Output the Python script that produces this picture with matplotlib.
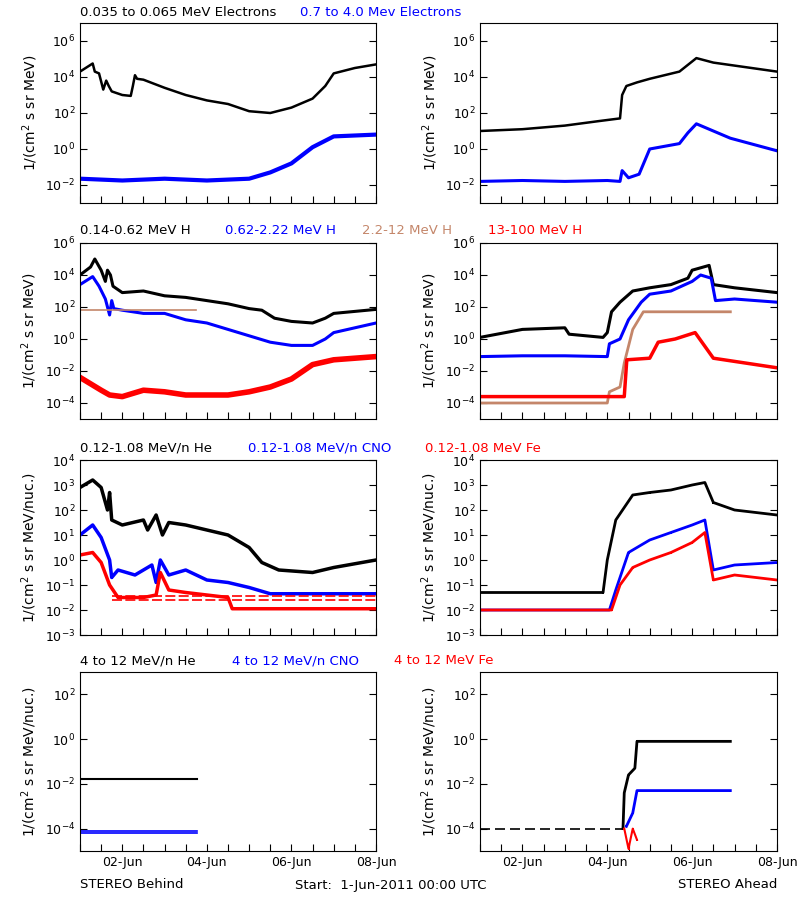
import numpy as np
import matplotlib
matplotlib.use('Agg')
import matplotlib.pyplot as plt

# time in days since 1-Jun-2011 00:00, values as log10(flux)

# Row 1: electrons
beh_e_lo_t = [0, 0.2, 0.3, 0.35, 0.45, 0.55, 0.62, 0.68, 0.75, 1.0, 1.2, 1.25, 1.3, 1.35, 1.5, 2.0, 2.5, 3.0, 3.5, 4.0, 4.5, 5.0, 5.5, 5.8, 6.0, 6.5, 7.0]
beh_e_lo_v = [4.3, 4.6, 4.75, 4.3, 4.2, 3.3, 3.8, 3.5, 3.2, 3.0, 2.95, 3.5, 4.1, 3.9, 3.85, 3.4, 3.0, 2.7, 2.5, 2.1, 2.0, 2.3, 2.8, 3.5, 4.2, 4.5, 4.7]
beh_e_hi_t = [0, 1.0, 2.0, 3.0, 4.0, 4.5, 5.0, 5.5, 6.0, 7.0]
beh_e_hi_v = [-1.65, -1.75, -1.65, -1.75, -1.65, -1.3, -0.8, 0.1, 0.7, 0.8]

ahe_e_lo_t = [0, 1.0, 2.0, 2.8, 3.3, 3.35, 3.45, 3.7, 4.0, 4.7, 5.1, 5.5, 6.1, 7.0]
ahe_e_lo_v = [1.0, 1.1, 1.3, 1.55, 1.7, 3.0, 3.5, 3.7, 3.9, 4.3, 5.05, 4.8, 4.6, 4.3]
ahe_e_hi_t = [0, 1.0, 2.0, 3.0, 3.3, 3.35, 3.5, 3.75, 4.0, 4.7, 4.9, 5.1, 5.9, 7.0]
ahe_e_hi_v = [-1.8, -1.75, -1.8, -1.75, -1.8, -1.2, -1.6, -1.4, 0.0, 0.3, 0.9, 1.4, 0.6, -0.1]

# Row 2: protons
beh_h1_t = [0, 0.25, 0.35, 0.5, 0.6, 0.65, 0.72, 0.78, 1.0, 1.5, 2.0, 2.5, 3.0, 3.5, 4.0, 4.3, 4.6, 5.0, 5.5, 5.8, 6.0, 7.0]
beh_h1_v = [4.0, 4.5, 5.0, 4.3, 3.6, 4.3, 4.0, 3.3, 2.9, 3.0, 2.7, 2.6, 2.4, 2.2, 1.9, 1.8, 1.3, 1.1, 1.0, 1.3, 1.6, 1.85]
beh_h2_t = [0, 0.3, 0.45, 0.6, 0.7, 0.75, 0.8, 1.0, 1.5, 2.0, 2.5, 3.0, 3.5, 4.0, 4.5, 5.0, 5.5, 5.8, 6.0, 7.0]
beh_h2_v = [3.4, 3.9, 3.3, 2.5, 1.5, 2.4, 1.9, 1.8, 1.6, 1.6, 1.2, 1.0, 0.6, 0.2, -0.2, -0.4, -0.4, 0.0, 0.4, 1.0]
beh_h3_t = [0, 2.75]
beh_h3_v = [1.8, 1.8]
beh_h4_t = [0, 0.5, 0.7, 1.0, 1.5, 2.0, 2.5, 3.5, 4.0, 4.5, 5.0, 5.5, 6.0, 7.0]
beh_h4_v = [-2.4, -3.2, -3.5, -3.6, -3.2, -3.3, -3.5, -3.5, -3.3, -3.0, -2.5, -1.6, -1.3, -1.1]

ahe_h1_t = [0, 1.0, 2.0, 2.1, 2.9, 3.0, 3.1, 3.3, 3.6, 4.0, 4.5, 4.9, 5.0, 5.4, 5.5, 6.0, 7.0]
ahe_h1_v = [0.1, 0.6, 0.7, 0.3, 0.1, 0.4, 1.7, 2.3, 3.0, 3.2, 3.4, 3.8, 4.3, 4.6, 3.4, 3.2, 2.9]
ahe_h2_t = [0, 1.0, 2.0, 3.0, 3.05, 3.3, 3.5, 3.8, 4.0, 4.5, 5.0, 5.2, 5.45, 5.55, 6.0, 7.0]
ahe_h2_v = [-1.1, -1.05, -1.05, -1.1, -0.3, 0.0, 1.2, 2.3, 2.8, 3.0, 3.6, 4.0, 3.8, 2.4, 2.5, 2.3]
ahe_h3_t = [0, 3.0, 3.05, 3.3, 3.4, 3.6, 3.85, 5.9]
ahe_h3_v = [-4.0, -4.0, -3.3, -3.0, -1.5, 0.6, 1.7, 1.7]
ahe_h4_t = [0, 1.0, 2.0, 3.0, 3.4, 3.46, 4.0, 4.2, 4.6, 5.07, 5.5, 6.0, 7.0]
ahe_h4_v = [-3.6, -3.6, -3.6, -3.6, -3.6, -1.3, -1.2, -0.2, 0.0, 0.4, -1.2, -1.4, -1.8]

# Row 3: 0.12-1.08 MeV/n heavy ions
beh_he_t = [0, 0.3, 0.5, 0.65, 0.7, 0.75, 1.0, 1.5, 1.6, 1.8, 1.95, 2.1, 2.5, 3.0, 3.5, 4.0, 4.3, 4.7, 5.5, 6.0, 7.0]
beh_he_v = [2.9, 3.2, 2.9, 2.0, 2.7, 1.6, 1.4, 1.6, 1.2, 1.8, 1.0, 1.5, 1.4, 1.2, 1.0, 0.5, -0.1, -0.4, -0.5, -0.3, 0.0]
beh_cno_t = [0, 0.3, 0.5, 0.7, 0.75, 0.9, 1.3, 1.7, 1.8, 1.9, 2.1, 2.5, 3.0, 3.5, 4.0, 4.5, 7.0]
beh_cno_v = [1.0, 1.4, 0.9, 0.0, -0.7, -0.4, -0.6, -0.2, -0.9, 0.0, -0.6, -0.4, -0.8, -0.9, -1.1, -1.35, -1.35]
beh_fe_t = [0, 0.3, 0.5, 0.7, 0.9, 1.5, 1.8, 1.9, 2.1, 2.5, 3.0, 3.5, 3.6, 7.0]
beh_fe_v = [0.2, 0.3, -0.1, -1.0, -1.5, -1.5, -1.4, -0.5, -1.2, -1.3, -1.4, -1.5, -1.95, -1.95]
beh_fe_floor = [-1.45, -1.6]

ahe_he_t = [0, 2.9, 3.0, 3.2, 3.6, 4.0, 4.5, 5.0, 5.3, 5.5, 6.0, 7.0]
ahe_he_v = [-1.3, -1.3, 0.0, 1.6, 2.6, 2.7, 2.8, 3.0, 3.1, 2.3, 2.0, 1.8]
ahe_cno_t = [0, 3.05, 3.2, 3.5, 4.0, 4.5, 5.0, 5.3, 5.5, 6.0, 7.0]
ahe_cno_v = [-2.0, -2.0, -1.2, 0.3, 0.8, 1.1, 1.4, 1.6, -0.4, -0.2, -0.1]
ahe_fe_t = [0, 3.1, 3.3, 3.6, 4.0, 4.5, 5.0, 5.3, 5.5, 6.0, 7.0]
ahe_fe_v = [-2.0, -2.0, -1.0, -0.3, 0.0, 0.3, 0.7, 1.1, -0.8, -0.6, -0.8]

# Row 4: 4-12 MeV/n heavy ions
beh_he4_t = [0, 2.77]
beh_he4_v = [-1.8, -1.8]
beh_cno4_t = [0, 2.77]
beh_cno4_v = [-4.1, -4.2]

ahe_he4_t = [0, 3.37, 3.4, 3.5, 3.65, 3.7, 5.9]
ahe_he4_v = [-4.0, -4.0, -2.4, -1.6, -1.3, -0.1, -0.1]
ahe_cno4_t = [3.45, 3.6, 3.7, 5.9]
ahe_cno4_v = [-3.9, -3.3, -2.3, -2.3]
ahe_fe4_t = [3.4, 3.5, 3.6, 3.7]
ahe_fe4_v = [-4.0, -4.9, -4.0, -4.5]

BROWN = '#c4866a'
W, H = 800, 900
rows_px = [(23, 203), (243, 419), (460, 635), (672, 851)]
cols_px = [(80, 376), (480, 777)]
ylims = [(1e-3, 1e7), (1e-5, 1e6), (1e-3, 1e4), (1e-5, 1e3)]
yticks = [[1e-2, 1e0, 1e2, 1e4, 1e6],
          [1e-4, 1e-2, 1e0, 1e2, 1e4, 1e6],
          [1e-3, 1e-2, 1e-1, 1e0, 1e1, 1e2, 1e3, 1e4],
          [1e-4, 1e-2, 1e0, 1e2]]
ylabels = ['1/(cm$^2$ s sr MeV)'] * 2 + ['1/(cm$^2$ s sr MeV/nuc.)'] * 2

plt.rcParams['font.family'] = ['DejaVu Sans']
plt.rcParams['font.size'] = 9
fig = plt.figure(figsize=(W / 100, H / 100), dpi=100)

axes = {}
for r, (y0, y1) in enumerate(rows_px):
    for c, (x0, x1) in enumerate(cols_px):
        ax = fig.add_axes([x0 / W, 1 - y1 / H, (x1 - x0) / W, (y1 - y0) / H])
        ax.set_yscale('log')
        ax.set_ylim(*ylims[r])
        ax.set_xlim(0, 7)
        ax.set_yticks(yticks[r])
        ax.minorticks_off()
        ax.set_xticks(np.arange(0, 7.01, 0.5))
        ax.set_xticklabels([])
        ax.tick_params(direction='in', which='both', right=True, top=False, length=5, width=0.8, labelsize=9)
        ax.set_ylabel(ylabels[r], fontsize=10)
        for s in ax.spines.values():
            s.set_linewidth(0.8)
        if r == 3:
            labs = ['' if (k % 4 != 2) else '%02d-Jun' % (1 + k // 2) for k in range(15)]
            ax.set_xticklabels(labs)
        axes[(r, c)] = ax


def line(ax, t, v, color, lw=2.0, ls='-'):
    ax.plot(t, 10 ** np.array(v), color=color, lw=lw, ls=ls)


def dots(ax, t, v, color, lw=1.2):
    ax.plot(t, 10 ** np.array(v), color=color, lw=lw, marker='s', ms=2, mew=0)


ax = axes[(0, 0)]
line(ax, beh_e_lo_t, beh_e_lo_v, 'black', lw=1.8)
dots(ax, beh_e_hi_t, beh_e_hi_v, 'blue', lw=3)
ax = axes[(0, 1)]
line(ax, ahe_e_lo_t, ahe_e_lo_v, 'black', lw=1.8)
dots(ax, ahe_e_hi_t, ahe_e_hi_v, 'blue', lw=2.2)

ax = axes[(1, 0)]
line(ax, beh_h1_t, beh_h1_v, 'black', lw=2.2)
line(ax, beh_h2_t, beh_h2_v, 'blue', lw=2.2)
line(ax, beh_h3_t, beh_h3_v, BROWN, lw=1.2)
dots(ax, beh_h4_t, beh_h4_v, 'red', lw=4)
ax = axes[(1, 1)]
line(ax, ahe_h1_t, ahe_h1_v, 'black', lw=2.2)
line(ax, ahe_h2_t, ahe_h2_v, 'blue', lw=2.2)
line(ax, ahe_h3_t, ahe_h3_v, BROWN, lw=2.0)
dots(ax, ahe_h4_t, ahe_h4_v, 'red', lw=2.5)

ax = axes[(2, 0)]
dots(ax, beh_he_t, beh_he_v, 'black', lw=2.5)
dots(ax, beh_cno_t, beh_cno_v, 'blue', lw=2.5)
dots(ax, beh_fe_t, beh_fe_v, 'red', lw=2.5)
for lvl in beh_fe_floor:
    ax.plot([0.75, 7], [10 ** lvl] * 2, color='red', lw=1.2, ls=(0, (6, 2)))
ax = axes[(2, 1)]
dots(ax, ahe_he_t, ahe_he_v, 'black', lw=2.0)
dots(ax, ahe_cno_t, ahe_cno_v, 'blue', lw=2.0)
dots(ax, ahe_fe_t, ahe_fe_v, 'red', lw=2.0)

ax = axes[(3, 0)]
line(ax, beh_he4_t, beh_he4_v, 'black', lw=1.5)
for k in range(2):
    ax.plot(beh_cno4_t, [10 ** beh_cno4_v[k]] * 2, color='blue', lw=1.2)
ax = axes[(3, 1)]
line(ax, ahe_he4_t[:2], ahe_he4_v[:2], 'black', lw=1.2, ls=(0, (6, 3)))
dots(ax, ahe_he4_t[1:], ahe_he4_v[1:], 'black', lw=2.0)
dots(ax, ahe_cno4_t, ahe_cno4_v, 'blue', lw=2.0)
dots(ax, ahe_fe4_t, ahe_fe4_v, 'red', lw=1.5)

# channel titles
titles = [
    (13, [(80, '0.035 to 0.065 MeV Electrons', 'black'), (300, '0.7 to 4.0 Mev Electrons', 'blue')]),
    (230, [(80, '0.14-0.62 MeV H', 'black'), (225, '0.62-2.22 MeV H', 'blue'),
           (362, '2.2-12 MeV H', BROWN), (488, '13-100 MeV H', 'red')]),
    (448, [(80, '0.12-1.08 MeV/n He', 'black'), (248, '0.12-1.08 MeV/n CNO', 'blue'),
           (425, '0.12-1.08 MeV Fe', 'red')]),
    (661, [(80, '4 to 12 MeV/n He', 'black'), (232, '4 to 12 MeV/n CNO', 'blue'),
           (394, '4 to 12 MeV Fe', 'red')]),
]
for y, items in titles:
    for x, txt, col in items:
        fig.text(x / W, 1 - y / H, txt, color=col, fontsize=9.5, va='center', ha='left')

fig.text(80 / W, 1 - 885 / H, 'STEREO Behind', fontsize=9.5, va='center')
fig.text(295 / W, 1 - 885 / H, 'Start:  1-Jun-2011 00:00 UTC', fontsize=9.5, va='center')
fig.text(777 / W, 1 - 885 / H, 'STEREO Ahead', fontsize=9.5, va='center', ha='right')

fig.savefig('out.png', dpi=100)
